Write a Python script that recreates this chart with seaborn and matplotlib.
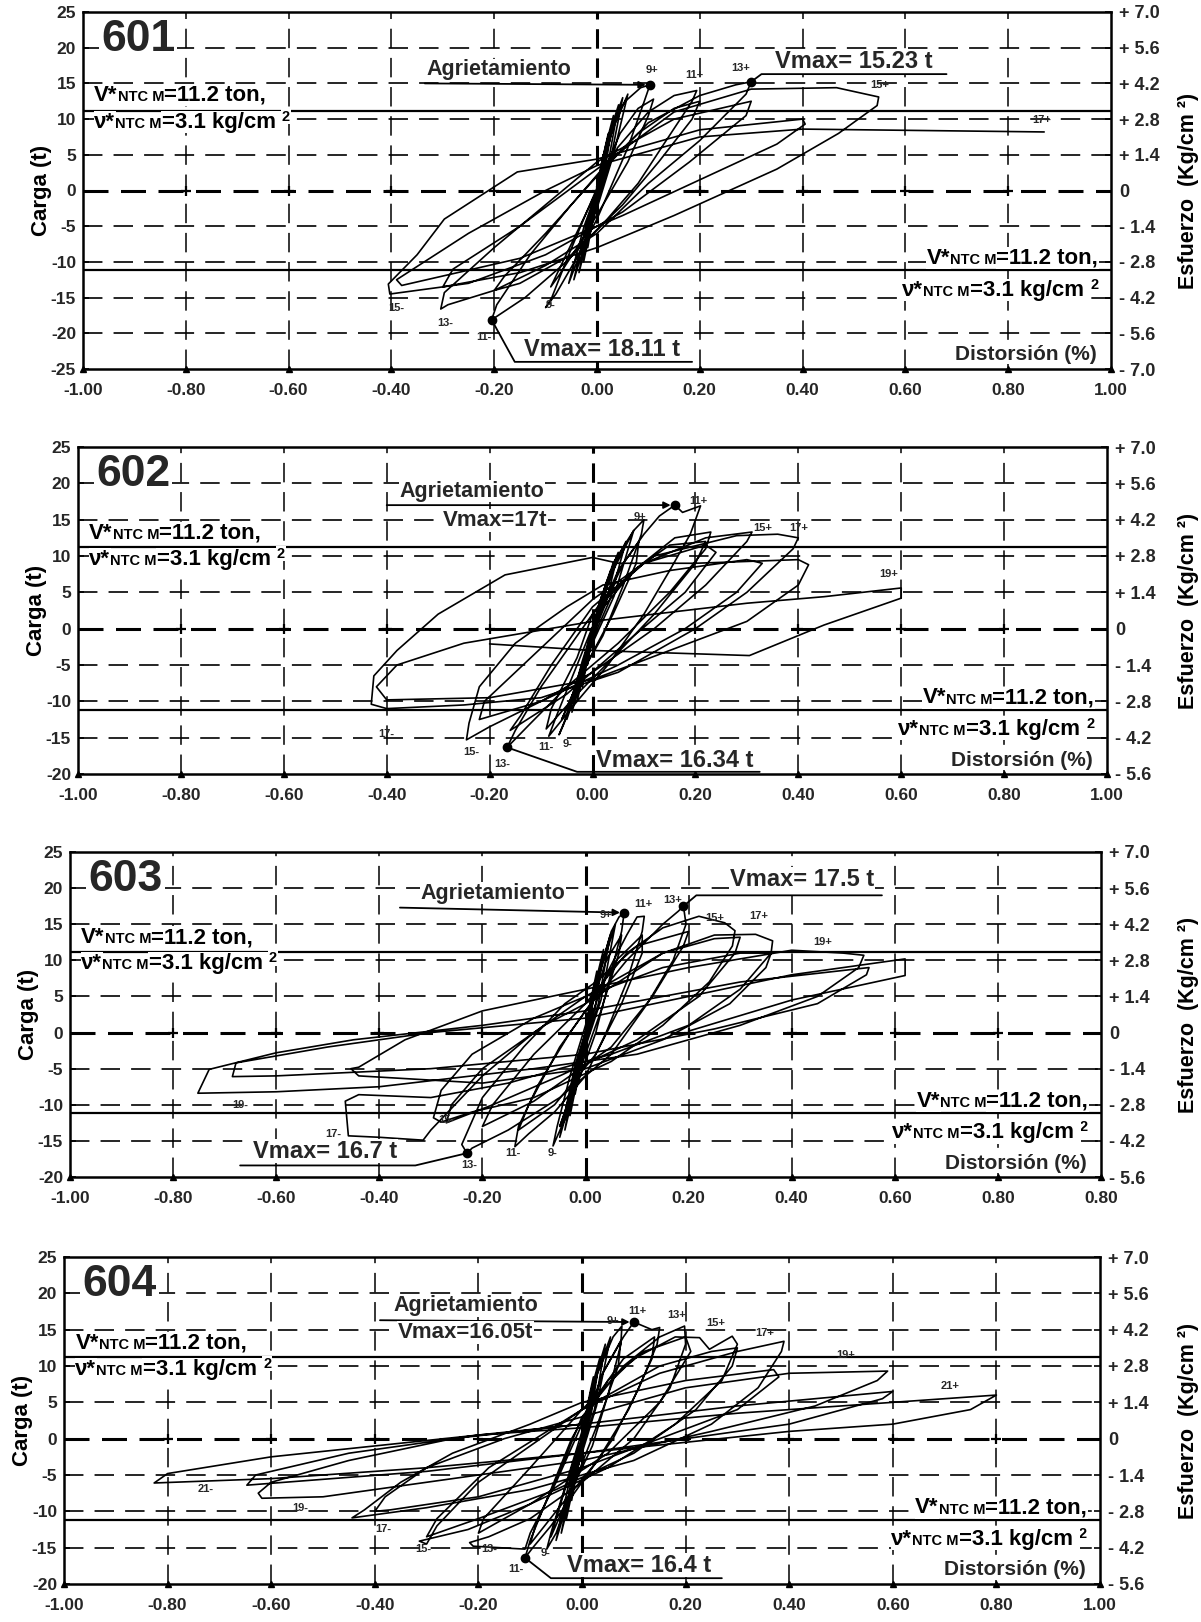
import matplotlib
matplotlib.use("Agg")
import matplotlib.pyplot as plt
import pandas as pd
import seaborn as sns

sns.set_theme(style="white")
plt.rcParams['font.family'] = ['Liberation Sans', 'DejaVu Sans']
plt.rcParams['font.weight'] = 'bold'
plt.rcParams['lines.scale_dashes'] = False

# ---------------------------------------------------------------- data
specimens = ["601", "602", "603", "604"]

x_ticks = [-1.0, -0.8, -0.6, -0.4, -0.2, 0.0, 0.2, 0.4, 0.6, 0.8, 1.0]
x_labels_std = ["-1.00", "-0.80", "-0.60", "-0.40", "-0.20", "0.00",
                "0.20", "0.40", "0.60", "0.80", "1.00"]
x_labels_603 = ["-1.00", "-0.80", "-0.60", "-0.40", "-0.20", "0.00",
                "0.20", "0.40", "0.60", "0.80", "0.80"]

y_ticks_601 = [25, 20, 15, 10, 5, 0, -5, -10, -15, -20, -25]
y_ticks_std = [25, 20, 15, 10, 5, 0, -5, -10, -15, -20]
esf_ticks_601 = [7.0, 5.6, 4.2, 2.8, 1.4, 0.0, -1.4, -2.8, -4.2, -5.6, -7.0]
esf_labels_601 = ["+ 7.0", "+ 5.6", "+ 4.2", "+ 2.8", "+ 1.4", "0",
                  "- 1.4", "- 2.8", "- 4.2", "- 5.6", "- 7.0"]
esf_ticks_std = [7.0, 5.6, 4.2, 2.8, 1.4, 0.0, -1.4, -2.8, -4.2, -5.6]
esf_labels_std = ["+ 7.0", "+ 5.6", "+ 4.2", "+ 2.8", "+ 1.4", "0",
                  "- 1.4", "- 2.8", "- 4.2", "- 5.6"]

v_ntc = 11.2          # ton, design shear resistance

# hysteresis loops, one vertex list per cycle: (distortion %, load t)
loops_601 = [
    [(0, 0), (0.006, 2.8), (0.012, 5.0), (0.006, 1.6), (0.0, -0.5), (-0.010, -5.0), (-0.004, -1.5), (0, 0)],
    [(0, 0), (0.011, 4.5), (0.022, 8.0), (0.011, 2.5), (0.0, -0.8), (-0.018, -8.0), (-0.008, -2.5), (0, 0)],
    [(0, 0), (0.016, 6.0), (0.032, 10.5), (0.017, 3.5), (0.0, -1.0), (-0.026, -10.0), (-0.012, -3.5), (0, 0)],
    [(0, 0), (0.020, 7.0), (0.042, 12.0), (0.022, 4.0), (0.0, -1.5), (-0.035, -11.5), (-0.016, -4.0), (0, 0)],
    [(0, 0), (0.025, 8.0), (0.050, 13.0), (0.027, 4.5), (0.0, -2.0), (-0.045, -12.5), (-0.020, -4.5), (0, 0)],
    [(0, 0), (0.030, 8.5), (0.060, 13.5), (0.032, 5.0), (0.0, -2.5), (-0.055, -13.0), (-0.025, -5.0), (0, 0)],
    [(0, 0), (0.035, 10.0), (0.055, 12.5), (0.085, 14.4), (0.103, 14.8), (0.092, 12.5), (0.060, 6.0),
     (0.030, 1.0), (0.0, -4.0), (-0.040, -9.5), (-0.080, -14.5), (-0.100, -16.4), (-0.088, -15.0),
     (-0.055, -9.0), (-0.020, -3.0), (0.010, 2.0)],
    [(0.010, 2.0), (0.045, 8.0), (0.080, 11.5), (0.110, 12.8), (0.100, 10.5), (0.060, 4.0), (0.020, -1.0),
     (-0.030, -7.0), (-0.075, -12.0), (-0.090, -13.5), (-0.080, -12.0), (-0.040, -6.0), (0.0, 0.0)],
    [(0.0, 0.0), (0.040, 6.0), (0.100, 11.0), (0.150, 13.3), (0.194, 14.0), (0.185, 12.5), (0.130, 6.5),
     (0.080, 1.0), (0.020, -4.0), (-0.060, -10.0), (-0.140, -15.0), (-0.205, -18.11), (-0.195, -16.0),
     (-0.130, -9.0), (-0.050, -2.0), (0.010, 3.0)],
    [(0.010, 3.0), (0.080, 8.0), (0.150, 11.5), (0.200, 12.5), (0.185, 10.0), (0.120, 4.0), (0.050, -2.0),
     (-0.050, -9.0), (-0.150, -13.0), (-0.200, -14.0), (-0.180, -12.0), (-0.100, -6.0), (0.0, 2.0)],
    [(0.0, 2.0), (0.100, 9.5), (0.200, 13.3), (0.270, 14.8), (0.300, 15.23), (0.290, 13.5), (0.200, 7.0),
     (0.100, 1.0), (0.0, -6.0), (-0.100, -10.5), (-0.200, -14.0), (-0.290, -16.0), (-0.304, -16.6),
     (-0.297, -14.3), (-0.200, -8.0), (-0.100, -2.0), (0.0, 4.0)],
    [(0.0, 4.0), (0.150, 10.0), (0.300, 12.5), (0.290, 10.5), (0.180, 4.0), (0.050, -3.0), (-0.100, -9.0),
     (-0.250, -13.0), (-0.300, -13.5), (-0.280, -11.0), (-0.150, -5.0), (0.0, 3.0)],
    [(0.0, 3.0), (0.150, 11.0), (0.300, 14.2), (0.466, 14.4), (0.548, 13.1), (0.545, 11.9), (0.470, 8.0),
     (0.350, 3.0), (0.150, -3.5), (0.0, -8.0), (-0.150, -11.5), (-0.300, -13.5), (-0.403, -14.5),
     (-0.406, -13.1), (-0.350, -9.0), (-0.297, -4.0), (-0.155, 2.6), (0.0, 4.4)],
    [(0.0, 4.4), (0.200, 8.5), (0.400, 10.0), (0.405, 9.3), (0.350, 6.5), (0.200, 1.5), (0.050, -3.5),
     (-0.150, -9.5), (-0.380, -13.3), (-0.390, -12.5), (-0.250, -6.0), (-0.100, 0.0), (0.0, 3.5)],
    [(0.0, 3.5), (0.200, 7.5), (0.400, 8.6), (0.870, 8.2)],
]

loops_602 = [
    [(0, 0), (0.010, 2.8), (0.020, 5.0), (0.010, 1.5), (0.0, -0.5), (-0.010, -5.0), (-0.004, -1.5), (0, 0)],
    [(0, 0), (0.018, 4.5), (0.035, 8.0), (0.018, 2.5), (0.0, -0.8), (-0.020, -8.0), (-0.008, -2.5), (0, 0)],
    [(0, 0), (0.025, 6.0), (0.050, 10.5), (0.026, 3.5), (0.0, -1.0), (-0.030, -10.0), (-0.012, -3.5), (0, 0)],
    [(0, 0), (0.032, 7.0), (0.065, 12.0), (0.034, 4.0), (0.0, -1.5), (-0.040, -11.5), (-0.016, -4.0), (0, 0)],
    [(0, 0), (0.040, 8.0), (0.080, 13.5), (0.042, 4.5), (0.0, -2.0), (-0.050, -12.5), (-0.020, -4.5), (0, 0)],
    [(0, 0), (0.040, 9.0), (0.080, 13.5), (0.100, 15.0), (0.095, 13.0), (0.060, 6.0), (0.020, -1.0),
     (-0.020, -6.0), (-0.050, -12.0), (-0.065, -14.6), (-0.055, -13.0), (-0.030, -7.0), (0.0, -1.0),
     (0.020, 3.0)],
    [(0.020, 3.0), (0.060, 9.0), (0.090, 12.0), (0.085, 9.0), (0.040, 2.0), (-0.020, -6.0),
     (-0.060, -12.5), (-0.050, -11.0), (-0.010, -4.0), (0.0, 0.0)],
    [(0.0, 0.0), (0.050, 8.0), (0.100, 13.0), (0.130, 15.5), (0.160, 17.0), (0.175, 16.0), (0.210, 16.9),
     (0.190, 13.0), (0.150, 8.0), (0.100, 2.0), (0.030, -5.0), (-0.030, -10.0), (-0.070, -13.5),
     (-0.085, -14.8), (-0.070, -12.0), (-0.030, -5.0), (0.010, 2.0)],
    [(0.010, 2.0), (0.080, 8.0), (0.150, 11.5), (0.220, 12.0), (0.200, 9.0), (0.120, 2.0), (0.040, -4.0),
     (-0.030, -9.0), (-0.090, -13.8), (-0.080, -11.0), (-0.030, -4.0), (0.0, 2.0)],
    [(0.0, 2.0), (0.080, 8.0), (0.160, 12.5), (0.230, 13.3), (0.220, 11.0), (0.150, 5.0), (0.050, -2.0),
     (-0.050, -8.0), (-0.120, -13.0), (-0.166, -16.34), (-0.150, -14.0), (-0.100, -8.0), (-0.040, -2.0),
     (0.020, 4.0)],
    [(0.020, 4.0), (0.100, 9.0), (0.220, 11.5), (0.240, 10.5), (0.180, 5.0), (0.080, -1.0),
     (-0.050, -9.0), (-0.160, -14.0), (-0.140, -12.0), (-0.080, -5.0), (0.0, 3.0)],
    [(0.0, 3.0), (0.100, 9.0), (0.220, 12.5), (0.310, 13.3), (0.300, 12.0), (0.220, 6.0), (0.120, 0.0),
     (0.0, -6.0), (-0.100, -10.0), (-0.200, -13.5), (-0.245, -15.3), (-0.240, -13.0), (-0.220, -8.0),
     (-0.150, -2.0), (-0.050, 3.0), (0.020, 6.0)],
    [(0.020, 6.0), (0.150, 8.0), (0.300, 9.5), (0.330, 9.0), (0.280, 5.0), (0.180, 0.0), (0.050, -5.0),
     (-0.100, -10.0), (-0.220, -12.5), (-0.210, -10.0), (-0.120, -4.0), (0.0, 4.0)],
    [(0.0, 4.0), (0.120, 10.0), (0.280, 12.8), (0.360, 13.0), (0.400, 12.5), (0.390, 11.0), (0.300, 5.0),
     (0.200, 0.0), (0.050, -6.0), (-0.100, -9.5), (-0.250, -10.5), (-0.400, -11.0), (-0.430, -10.4),
     (-0.425, -6.5), (-0.380, -3.0), (-0.300, 2.0), (-0.170, 7.4), (0.0, 9.8), (0.050, 9.0)],
    [(0.050, 9.0), (0.200, 9.0), (0.400, 9.5), (0.420, 8.8), (0.400, 6.0), (0.300, 1.0), (0.150, -3.0),
     (0.0, -7.0), (-0.200, -9.5), (-0.400, -9.8), (-0.420, -8.0), (-0.380, -5.0), (-0.250, -2.0),
     (0.0, 1.0)],
    [(0.0, 1.0), (0.300, 3.5), (0.450, 4.4), (0.600, 5.6), (0.600, 4.2), (0.450, 0.5), (0.305, -3.7),
     (0.0, -3.0), (-0.200, -2.1)],
]

loops_603 = [
    [(0, 0), (0.006, 2.8), (0.012, 5.0), (0.006, 1.6), (0.0, -0.5), (-0.010, -5.0), (-0.004, -1.5), (0, 0)],
    [(0, 0), (0.011, 4.8), (0.022, 8.5), (0.011, 2.5), (0.0, -0.8), (-0.020, -8.5), (-0.008, -2.5), (0, 0)],
    [(0, 0), (0.018, 6.5), (0.035, 11.5), (0.019, 3.5), (0.0, -1.0), (-0.030, -11.5), (-0.012, -3.5), (0, 0)],
    [(0, 0), (0.024, 7.5), (0.048, 13.5), (0.025, 4.0), (0.0, -1.5), (-0.040, -13.5), (-0.016, -4.0), (0, 0)],
    [(0, 0), (0.029, 8.5), (0.058, 15.0), (0.030, 4.5), (0.0, -2.0), (-0.050, -14.5), (-0.020, -4.5), (0, 0)],
    [(0, 0), (0.030, 9.0), (0.050, 14.0), (0.065, 16.0), (0.075, 16.6), (0.070, 14.0), (0.045, 7.0),
     (0.020, 0.0), (-0.010, -6.0), (-0.040, -12.0), (-0.063, -15.7), (-0.055, -13.0), (-0.030, -6.0),
     (0.0, 1.0)],
    [(0.0, 1.0), (0.040, 10.0), (0.070, 13.5), (0.065, 11.0), (0.030, 3.0), (-0.010, -5.0),
     (-0.050, -13.0), (-0.040, -11.0), (-0.010, -3.0), (0.0, 0.0)],
    [(0.0, 0.0), (0.040, 8.0), (0.080, 13.5), (0.100, 16.0), (0.114, 16.1), (0.110, 14.0), (0.080, 7.0),
     (0.040, 0.0), (0.0, -6.0), (-0.060, -11.0), (-0.110, -14.0), (-0.137, -15.8), (-0.130, -13.0),
     (-0.090, -7.0), (-0.030, 0.0), (0.010, 4.0)],
    [(0.010, 4.0), (0.060, 10.0), (0.110, 13.5), (0.110, 11.0), (0.070, 4.0), (0.020, -3.0),
     (-0.060, -10.0), (-0.130, -13.5), (-0.110, -10.0), (-0.050, -2.0), (0.0, 3.0)],
    [(0.0, 3.0), (0.080, 10.0), (0.150, 15.0), (0.180, 16.8), (0.190, 17.5), (0.195, 15.0), (0.170, 10.0),
     (0.120, 4.0), (0.050, -3.0), (-0.050, -9.0), (-0.150, -13.5), (-0.220, -16.0), (-0.230, -16.7),
     (-0.240, -15.5), (-0.200, -9.0), (-0.120, -2.0), (-0.040, 4.0), (0.020, 7.0)],
    [(0.020, 7.0), (0.100, 12.0), (0.200, 14.0), (0.190, 12.0), (0.130, 5.0), (0.050, -2.0),
     (-0.100, -9.5), (-0.200, -13.0), (-0.180, -10.0), (-0.100, -3.0), (0.0, 4.0)],
    [(0.0, 4.0), (0.080, 11.0), (0.150, 14.5), (0.220, 16.1), (0.270, 15.2), (0.290, 14.1), (0.285, 12.0),
     (0.240, 7.0), (0.150, 1.0), (0.050, -4.0), (-0.100, -9.0), (-0.220, -11.0), (-0.280, -12.4),
     (-0.295, -11.8), (-0.280, -8.0), (-0.220, -3.0), (-0.100, 2.0), (0.0, 5.0)],
    [(0.0, 5.0), (0.150, 11.0), (0.250, 13.0), (0.300, 13.2), (0.290, 11.0), (0.220, 5.0), (0.100, -1.0),
     (-0.050, -6.0), (-0.180, -10.0), (-0.270, -12.5), (-0.260, -10.0), (-0.200, -5.0), (-0.080, 1.0),
     (0.0, 4.0)],
    [(0.0, 4.0), (0.150, 11.0), (0.250, 13.5), (0.330, 13.6), (0.363, 12.7), (0.360, 11.0), (0.300, 6.0),
     (0.200, 1.0), (0.050, -3.0), (-0.150, -7.0), (-0.300, -9.0), (-0.440, -8.6), (-0.466, -9.5),
     (-0.460, -14.3), (-0.400, -14.5), (-0.315, -14.9), (-0.300, -13.5), (-0.200, -6.0), (-0.100, 0.0),
     (0.0, 5.0)],
    [(0.0, 5.0), (0.150, 9.0), (0.300, 11.0), (0.360, 11.0), (0.350, 9.0), (0.280, 4.0), (0.150, -1.0),
     (0.0, -5.0), (-0.200, -7.0), (-0.440, -6.0), (-0.455, -5.0), (-0.440, -4.8), (-0.350, -1.0),
     (-0.200, 3.0), (0.0, 6.0)],
    [(0.0, 6.0), (0.200, 9.0), (0.400, 11.4), (0.500, 11.0), (0.540, 10.7), (0.530, 9.0), (0.450, 5.0),
     (0.300, 1.0), (0.100, -3.0), (-0.100, -5.0), (-0.400, -7.5), (-0.600, -8.2), (-0.752, -8.4),
     (-0.730, -5.1), (-0.600, -2.8), (-0.450, -1.0), (-0.200, 1.0), (0.0, 3.0)],
    [(0.0, 3.0), (0.300, 7.0), (0.550, 9.0), (0.545, 8.0), (0.450, 4.0), (0.250, 0.5), (0.0, -3.0),
     (-0.300, -5.0), (-0.600, -6.0), (-0.685, -6.1), (-0.678, -4.2), (-0.500, -2.0), (-0.300, 0.0),
     (0.0, 2.0)],
    [(0.0, 2.0), (0.200, 5.0), (0.400, 8.0), (0.620, 10.2), (0.620, 7.9), (0.400, 4.5), (0.200, 0.2)],
]

loops_604 = [
    [(0, 0), (0.006, 2.8), (0.012, 5.0), (0.006, 1.6), (0.0, -0.5), (-0.010, -5.0), (-0.004, -1.5), (0, 0)],
    [(0, 0), (0.011, 4.8), (0.022, 8.5), (0.011, 2.5), (0.0, -0.8), (-0.020, -8.5), (-0.008, -2.5), (0, 0)],
    [(0, 0), (0.017, 6.5), (0.034, 11.0), (0.018, 3.5), (0.0, -1.0), (-0.030, -11.0), (-0.012, -3.5), (0, 0)],
    [(0, 0), (0.022, 7.5), (0.045, 13.0), (0.024, 4.0), (0.0, -1.5), (-0.040, -13.0), (-0.016, -4.0), (0, 0)],
    [(0, 0), (0.027, 8.5), (0.055, 14.0), (0.028, 4.5), (0.0, -2.0), (-0.050, -14.0), (-0.020, -4.5), (0, 0)],
    [(0, 0), (0.030, 9.0), (0.060, 14.0), (0.077, 15.5), (0.075, 13.0), (0.050, 6.0), (0.020, -1.0),
     (-0.020, -7.0), (-0.050, -13.0), (-0.068, -15.2), (-0.060, -13.0), (-0.030, -6.0), (0.0, 1.0)],
    [(0.0, 1.0), (0.040, 9.0), (0.075, 13.5), (0.070, 10.0), (0.030, 2.0), (-0.020, -7.0),
     (-0.060, -13.5), (-0.050, -11.0), (-0.020, -4.0), (0.0, 0.0)],
    [(0.0, 0.0), (0.040, 9.0), (0.080, 14.0), (0.100, 16.05), (0.135, 15.0), (0.150, 15.3), (0.145, 13.0),
     (0.110, 7.0), (0.060, 0.0), (0.0, -6.0), (-0.060, -12.0), (-0.095, -15.0), (-0.110, -16.4),
     (-0.100, -14.0), (-0.060, -7.0), (-0.020, 0.0), (0.020, 5.0)],
    [(0.020, 5.0), (0.080, 11.0), (0.140, 14.0), (0.135, 11.0), (0.090, 4.0), (0.030, -3.0),
     (-0.050, -10.0), (-0.100, -14.5), (-0.090, -12.0), (-0.040, -4.0), (0.0, 3.0)],
    [(0.0, 3.0), (0.080, 10.0), (0.150, 14.0), (0.198, 15.5), (0.200, 13.0), (0.170, 7.0), (0.100, 0.0),
     (0.0, -6.0), (-0.100, -11.0), (-0.180, -13.5), (-0.217, -14.3), (-0.210, -14.8), (-0.110, -15.2),
     (-0.100, -13.0), (-0.050, -6.0), (0.0, 2.0), (0.050, 8.0)],
    [(0.050, 8.0), (0.120, 12.0), (0.200, 14.0), (0.210, 12.0), (0.150, 5.0), (0.050, -2.0),
     (-0.100, -9.0), (-0.200, -13.0), (-0.190, -11.0), (-0.100, -4.0), (0.0, 4.0)],
    [(0.0, 4.0), (0.100, 11.0), (0.180, 14.0), (0.227, 13.9), (0.246, 12.3), (0.290, 14.1), (0.300, 13.0),
     (0.270, 8.0), (0.180, 2.0), (0.050, -4.0), (-0.100, -9.0), (-0.220, -12.5), (-0.314, -14.1),
     (-0.300, -14.5), (-0.280, -12.0), (-0.200, -6.0), (-0.100, -1.0), (0.0, 4.0)],
    [(0.0, 4.0), (0.150, 10.0), (0.250, 12.0), (0.300, 12.5), (0.290, 10.0), (0.220, 4.0), (0.100, -2.0),
     (-0.050, -7.0), (-0.200, -11.0), (-0.300, -13.5), (-0.280, -11.0), (-0.180, -4.0), (0.0, 4.0)],
    [(0.0, 4.0), (0.150, 9.0), (0.300, 12.0), (0.390, 13.4), (0.385, 12.0), (0.340, 7.0), (0.250, 2.0),
     (0.100, -3.0), (-0.100, -7.0), (-0.300, -9.5), (-0.444, -10.9), (-0.420, -9.8), (-0.350, -6.0),
     (-0.250, -2.0), (-0.100, 2.0), (0.0, 5.0)],
    [(0.0, 5.0), (0.200, 8.0), (0.370, 9.5), (0.380, 8.5), (0.300, 4.0), (0.150, 0.0), (0.0, -4.0),
     (-0.200, -8.0), (-0.370, -9.8), (-0.400, -10.0), (-0.380, -8.0), (-0.300, -4.0), (-0.150, 0.0),
     (0.0, 3.0)],
    [(0.0, 3.0), (0.200, 7.0), (0.400, 9.0), (0.590, 9.3), (0.570, 8.0), (0.450, 4.5), (0.250, 1.0),
     (0.0, -3.0), (-0.300, -6.0), (-0.500, -8.0), (-0.618, -8.2), (-0.625, -7.5), (-0.600, -6.0),
     (-0.450, -3.0), (-0.250, 0.0), (0.0, 2.0)],
    [(0.0, 2.0), (0.300, 4.5), (0.600, 6.5), (0.580, 5.5), (0.400, 2.0), (0.200, 0.0), (0.0, -2.0),
     (-0.300, -4.5), (-0.647, -6.4), (-0.630, -5.0), (-0.450, -2.0), (-0.200, 0.5), (0.0, 1.5)],
    [(0.0, 1.5), (0.300, 3.5), (0.600, 5.0), (0.800, 6.0), (0.750, 4.0), (0.600, 2.0), (0.400, 1.0),
     (0.200, -0.5), (0.0, -2.0), (-0.300, -4.0), (-0.600, -5.5), (-0.826, -6.1), (-0.800, -4.8),
     (-0.600, -2.5), (-0.400, -1.0), (-0.200, 0.5), (0.0, 2.0)],
]

# marked points: cracking, positive and negative maximum load
crack_pts = {"601": (0.103, 14.8), "602": (0.160, 17.0), "603": (0.075, 16.6), "604": (0.100, 16.05)}
vmax_pos_pts = {"601": (0.300, 15.23), "603": (0.190, 17.5)}
vmax_neg_pts = {"601": (-0.205, -18.11), "602": (-0.166, -16.34), "603": (-0.230, -16.7),
                "604": (-0.110, -16.4)}

# cycle labels (text, distortion, load)
cycle_labels = {
    "601": [("9+", 0.107, 16.9), ("11+", 0.19, 16.2), ("13+", 0.28, 17.2), ("15+", 0.55, 14.8),
            ("17+", 0.866, 9.9), ("15-", -0.39, -16.4), ("13-", -0.295, -18.6), ("11-", -0.22, -20.5),
            ("9-", -0.09, -16.1)],
    "602": [("9+", 0.092, 15.3), ("11+", 0.206, 17.6), ("15+", 0.33, 13.9), ("17+", 0.40, 13.9),
            ("19+", 0.575, 7.5), ("17-", -0.40, -14.5), ("15-", -0.236, -17.0), ("13-", -0.176, -18.6),
            ("11-", -0.09, -16.3), ("9-", -0.049, -15.9)],
    "603": [("9+", 0.04, 16.3), ("11+", 0.113, 17.8), ("13+", 0.17, 18.4), ("15+", 0.25, 15.8),
            ("17+", 0.336, 16.1), ("19+", 0.46, 12.5), ("19-", -0.67, -10.0), ("17-", -0.49, -14.1),
            ("15-", -0.27, -12.1), ("13-", -0.225, -18.4), ("11-", -0.14, -16.7), ("9-", -0.064, -16.7)],
    "604": [("9+", 0.06, 16.2), ("11+", 0.107, 17.6), ("13+", 0.183, 17.0), ("15+", 0.258, 15.9),
            ("17+", 0.352, 14.6), ("19+", 0.51, 11.5), ("21+", 0.71, 7.2), ("21-", -0.727, -6.9),
            ("19-", -0.544, -9.5), ("17-", -0.383, -12.5), ("15-", -0.306, -15.2), ("13-", -0.18, -15.2),
            ("11-", -0.127, -17.9), ("9-", -0.07, -15.8)],
}

loops = {"601": loops_601, "602": loops_602, "603": loops_603, "604": loops_604}
ylims = {"601": (-25, 25), "602": (-20, 25), "603": (-20, 25), "604": (-20, 25)}

vmax_pos_text = {"601": "Vmax= 15.23 t", "603": "Vmax= 17.5 t"}
vmax_neg_text = {"601": "Vmax= 18.11 t", "602": "Vmax= 16.34 t", "603": "Vmax= 16.7 t",
                 "604": "Vmax= 16.4 t"}
vmax_crack_text = {"602": "Vmax=17t", "604": "Vmax=16.05t"}

# ---------------------------------------------------------------- layout
W, H = 1201, 1622
fig = plt.figure(figsize=(W / 100, H / 100), dpi=100)
fig.patch.set_facecolor("white")

# (left, right, top, bottom) in pixels
boxes = {"601": (83, 1111, 12, 369), "602": (78, 1107, 447, 774),
         "603": (70, 1101, 852, 1177), "604": (64, 1100, 1257, 1584)}

BIG, SMALL = 16, 10.5
WHITE = dict(facecolor="white", edgecolor="none", pad=0.5)


def left_chain(ax, x, y, pieces, va):
    """Consecutive text pieces of different sizes, anchored on the left end.
    Each piece: (text, fontsize, rise in points above the common baseline)."""
    kw = dict(color="black", fontweight="bold", zorder=6, bbox=WHITE)
    prev, prev_rise = None, 0
    for txt, size, rise in pieces:
        if prev is None:
            prev = ax.text(x, y, txt, fontsize=size, ha="left", va=va, **kw)
        else:
            prev = ax.annotate(txt, xy=(1, 0), xycoords=prev, xytext=(0, rise - prev_rise),
                               textcoords="offset points", fontsize=size,
                               ha="left", va="bottom", annotation_clip=False, **kw)
        prev_rise = rise


def right_chain(ax, x, y, pieces, va):
    """Same as left_chain but anchored on the right end."""
    kw = dict(color="black", fontweight="bold", zorder=6, bbox=WHITE)
    nxt, nxt_rise = None, 0
    for txt, size, rise in reversed(pieces):
        if nxt is None:
            nxt = ax.text(x, y, txt, fontsize=size, ha="right", va=va, **kw)
        else:
            nxt = ax.annotate(txt, xy=(0, 0), xycoords=nxt, xytext=(0, rise - nxt_rise),
                              textcoords="offset points", fontsize=size,
                              ha="right", va="bottom", annotation_clip=False, **kw)
        nxt_rise = rise


v_pieces = [("V*", BIG, 0), ("NTC M", SMALL, 1.2), ("=11.2 ton,", BIG, 0)]
nu_pieces = [("ν*", BIG, 0), ("NTC M", SMALL, 1.2), ("=3.1 kg/cm ", BIG, 0), ("2", SMALL, 6.5)]

# text placement per panel
ann = {
    "601": dict(crack_txt=(-0.19, 16.9), crack_start=(-0.335, 15.0), vmax_txt=None,
                vp_txt=(0.50, 18.0), vp_line=[(0.32, 16.3), (0.68, 16.3)],
                vn_txt=(0.01, -22.2), vn_line=[(-0.16, -24.0), (0.185, -24.0)],
                v_left=(11.9, 11.05), v_right=(-10.95, -12.2), dist_y=-22.9),
    "602": dict(crack_txt=(-0.235, 18.9), crack_start=(-0.40, 17.0), vmax_txt=(-0.19, 14.9),
                vp_txt=None, vp_line=None,
                vn_txt=(0.16, -18.2), vn_line=[(-0.03, -19.7), (0.325, -19.7)],
                v_left=(11.7, 11.0), v_right=(-10.95, -12.1), dist_y=-18.1),
    "603": dict(crack_txt=(-0.18, 19.3), crack_start=(-0.36, 17.3), vmax_txt=None,
                vp_txt=(0.42, 21.2), vp_line=[(0.215, 19.0), (0.575, 19.0)],
                vn_txt=(-0.505, -16.4), vn_line=[(-0.67, -18.4), (-0.33, -18.4)],
                v_left=(11.7, 11.0), v_right=(-10.95, -12.1), dist_y=-18.1),
    "604": dict(crack_txt=(-0.225, 18.3), crack_start=(-0.39, 16.3), vmax_txt=(-0.225, 14.6),
                vp_txt=None, vp_line=None,
                vn_txt=(0.11, -17.4), vn_line=[(-0.06, -19.2), (0.27, -19.2)],
                v_left=(11.7, 11.0), v_right=(-10.95, -12.1), dist_y=-18.0),
}

for sp in specimens:
    l, r, t, b = boxes[sp]
    ax = fig.add_axes([l / W, 1 - b / H, (r - l) / W, (b - t) / H])
    ylo, yhi = ylims[sp]
    ax.set_xlim(-1.0, 1.0)
    ax.set_ylim(ylo, yhi)

    # grid
    for yv in range(ylo + 5, yhi, 5):
        if yv == 0:
            ax.axhline(0, color="black", lw=2.2, dashes=(18, 9), zorder=1)
        else:
            ax.axhline(yv, color="black", lw=1.2, dashes=(14, 8), zorder=1)
    for xv in x_ticks[1:-1]:
        if xv == 0:
            ax.axvline(0, color="black", lw=2.2, dashes=(14, 7), zorder=1)
        else:
            ax.axvline(xv, color="black", lw=1.1, dashes=(14, 7), zorder=1)
    ax.plot(x_ticks[1:-1], [0] * 9, ls="none", marker="+", ms=7, mew=1.6, color="black", zorder=2)
    ax.plot(x_ticks, [ylo] * 11, ls="none", marker="^", ms=5, color="black", zorder=7, clip_on=False)

    # reference resistance lines
    ax.axhline(v_ntc, color="black", lw=1.6, zorder=3)
    ax.axhline(-v_ntc, color="black", lw=1.6, zorder=3)

    # hysteresis curve
    path = [pt for cyc in loops[sp] for pt in cyc]
    df = pd.DataFrame(path, columns=["distorsion", "carga"])
    sns.lineplot(data=df, x="distorsion", y="carga", sort=False, estimator=None,
                 color="black", lw=1.2, ax=ax, zorder=4)

    # axes decoration
    for s in ax.spines.values():
        s.set_color("black")
        s.set_linewidth(1.8)
    ax.set_xticks(x_ticks)
    ax.set_xticklabels(x_labels_603 if sp == "603" else x_labels_std, fontsize=12.5, fontweight="bold")
    yt = y_ticks_601 if sp == "601" else y_ticks_std
    ax.set_yticks(yt)
    ax.set_yticklabels([str(v) for v in yt], fontsize=12.5, fontweight="bold")
    ax.tick_params(axis="both", direction="in", length=4, width=1.2, color="black", pad=5)
    ax.tick_params(axis="x", length=0, pad=10)
    ax.set_xlabel("")
    ax.set_ylabel("Carga (t)", fontsize=16, fontweight="bold", color="black")
    ax.yaxis.set_label_coords(-31 / (r - l), 0.5)
    ax.grid(False)

    tw = ax.twinx()
    tw.set_ylim(ylo * 0.28, yhi * 0.28)
    et = esf_ticks_601 if sp == "601" else esf_ticks_std
    tw.set_yticks(et)
    tw.set_yticklabels(esf_labels_601 if sp == "601" else esf_labels_std, fontsize=13, fontweight="bold")
    tw.tick_params(axis="y", direction="in", length=4, width=1.2, color="black", pad=6)
    tw.set_ylabel("Esfuerzo  (Kg/cm ²)", fontsize=15.5, fontweight="bold", color="black")
    tw.yaxis.set_label_coords(1 + (1178 - r) / (r - l), 0.5)
    for s in tw.spines.values():
        s.set_visible(False)
    tw.grid(False)

    # specimen id
    ax.text(-0.965, yhi - 1.0, sp, fontsize=32, fontweight="bold", ha="left", va="top", zorder=6,
            bbox=dict(facecolor="white", edgecolor="none", pad=1.5))

    a = ann[sp]
    left_chain(ax, -0.978, a["v_left"][0], v_pieces, va="bottom")
    left_chain(ax, -0.978, a["v_left"][1], nu_pieces, va="top")
    right_chain(ax, 0.975, a["v_right"][0], v_pieces, va="bottom")
    right_chain(ax, 0.975, a["v_right"][1], nu_pieces, va="top")
    ax.text(0.972, a["dist_y"], "Distorsión (%)", fontsize=15, fontweight="bold", ha="right", va="center",
            zorder=6, bbox=WHITE)

    # cracking annotation
    cx, cy = crack_pts[sp]
    ax.text(a["crack_txt"][0], a["crack_txt"][1], "Agrietamiento", fontsize=15.5, fontweight="bold",
            ha="center", va="center", zorder=6, bbox=WHITE)
    ax.annotate("", xy=(cx, cy), xytext=a["crack_start"],
                arrowprops=dict(arrowstyle="-|>", lw=1.3, color="black", mutation_scale=10,
                                shrinkA=0, shrinkB=3), zorder=6)
    if a["vmax_txt"] is not None:
        ax.text(a["vmax_txt"][0], a["vmax_txt"][1], vmax_crack_text[sp], fontsize=16, fontweight="bold",
                ha="center", va="center", zorder=6, bbox=WHITE)
    ax.plot([cx], [cy], "o", color="black", ms=6, zorder=7)

    # positive maximum
    if sp in vmax_pos_pts:
        px, py = vmax_pos_pts[sp]
        ax.plot([px], [py], "o", color="black", ms=6, zorder=7)
        ax.text(a["vp_txt"][0], a["vp_txt"][1], vmax_pos_text[sp], fontsize=17, fontweight="bold",
                ha="center", va="center", zorder=6, bbox=WHITE)
        (x0, y0), (x1, y1) = a["vp_line"]
        ax.plot([px, x0, x1], [py, y0, y1], color="black", lw=1.3, zorder=6)

    # negative maximum
    nx, ny = vmax_neg_pts[sp]
    ax.plot([nx], [ny], "o", color="black", ms=6, zorder=7)
    ax.text(a["vn_txt"][0], a["vn_txt"][1], vmax_neg_text[sp], fontsize=17, fontweight="bold",
            ha="center", va="center", zorder=6, bbox=WHITE)
    (x0, y0), (x1, y1) = a["vn_line"]
    if sp == "603":
        ax.plot([x0, x1, nx], [y0, y1, ny], color="black", lw=1.3, zorder=6)
    else:
        ax.plot([nx, x0, x1], [ny, y0, y1], color="black", lw=1.3, zorder=6)

    for txt, lx, ly in cycle_labels[sp]:
        ax.text(lx, ly, txt, fontsize=8, fontweight="bold", ha="center", va="center", zorder=6)

fig.savefig("out.png", dpi=100, facecolor="white")
